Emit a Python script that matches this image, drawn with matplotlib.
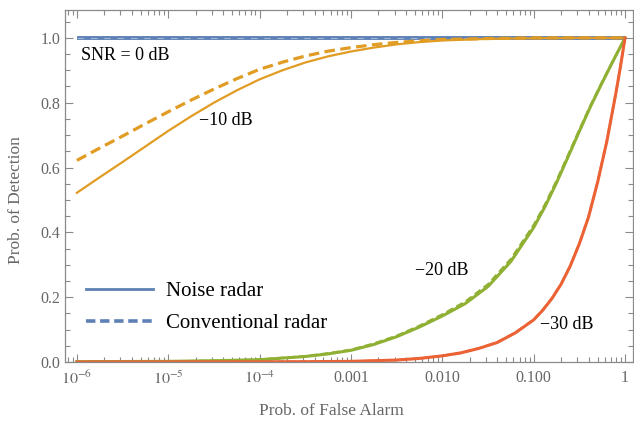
import numpy as np
import matplotlib
matplotlib.use("Agg")
import matplotlib.pyplot as plt
from matplotlib.ticker import FixedLocator, FixedFormatter, MultipleLocator
from matplotlib.lines import Line2D

# ---- data (log10 Pfa, Pd) ----
logP_blue = [-6, 0]
blue_noise = [1.0, 1.0]
blue_conv = [1.0, 1.0]

logP_orange = [-6, -5.75, -5.5, -5.25, -5, -4.75, -4.5, -4.25, -4, -3.75, -3.5, -3.25,
               -3, -2.75, -2.5, -2.25, -2, -1.5, -1, -0.5, 0]
orange_noise = [0.522, 0.570, 0.617, 0.665, 0.713, 0.758, 0.800, 0.838, 0.872, 0.900,
                0.924, 0.943, 0.958, 0.970, 0.980, 0.987, 0.992, 0.997, 0.999, 1.0, 1.0]
orange_conv = [0.622, 0.660, 0.697, 0.735, 0.772, 0.808, 0.842, 0.874, 0.903, 0.925,
               0.944, 0.959, 0.970, 0.979, 0.986, 0.991, 0.995, 0.998, 1.0, 1.0, 1.0]

logP_green = [-6, -5, -4.5, -4, -3.5, -3.25, -3, -2.75, -2.5, -2.25, -2, -1.75, -1.5,
              -1.25, -1, -0.875, -0.75, -0.625, -0.5, -0.375, -0.25, -0.125, 0]
green_noise = [0.001, 0.002, 0.004, 0.007, 0.017, 0.025, 0.036, 0.054, 0.078, 0.108,
               0.142, 0.180, 0.233, 0.310, 0.415, 0.480, 0.553, 0.632, 0.712, 0.790,
               0.862, 0.932, 1.0]
green_conv = [0.001, 0.002, 0.004, 0.008, 0.018, 0.027, 0.038, 0.057, 0.081, 0.112,
              0.147, 0.186, 0.240, 0.318, 0.423, 0.487, 0.560, 0.638, 0.717, 0.794,
              0.865, 0.934, 1.0]

logP_red = [-6, -5, -4, -3.5, -3, -2.5, -2.25, -2, -1.8, -1.6, -1.4, -1.2, -1, -0.9,
            -0.8, -0.7, -0.6, -0.5, -0.4, -0.3, -0.2, -0.1, -0.05, 0]
red_noise = [0.0, 0.0002, 0.0006, 0.001, 0.002, 0.006, 0.011, 0.019, 0.028, 0.042,
             0.060, 0.090, 0.130, 0.160, 0.196, 0.240, 0.296, 0.365, 0.447, 0.555,
             0.680, 0.830, 0.912, 1.0]
red_conv = [0.0, 0.0002, 0.0006, 0.001, 0.002, 0.006, 0.011, 0.019, 0.028, 0.042,
            0.061, 0.091, 0.131, 0.161, 0.197, 0.241, 0.297, 0.366, 0.448, 0.556,
            0.681, 0.830, 0.912, 1.0]

x_tick_vals = [1e-6, 1e-5, 1e-4, 1e-3, 1e-2, 1e-1, 1]
x_tick_labels = [r"$10^{-6}$", r"$10^{-5}$", r"$10^{-4}$", "0.001", "0.010", "0.100", "1"]
y_tick_vals = [0.0, 0.2, 0.4, 0.6, 0.8, 1.0]

snr_labels = ["SNR = 0 dB", "\u221210 dB", "\u221220 dB", "\u221230 dB"]
snr_label_pos = [(10**-5.96, 0.945), (10**-4.66, 0.744), (10**-2.30, 0.281), (10**-0.93, 0.117)]

legend_labels = ["Noise radar", "Conventional radar"]

BLUE = "#5E81B5"
ORANGE = "#E19C24"
GREEN = "#8FB032"
RED = "#EB6235"
GRAY = "#8a8a8a"
TGRAY = "#666666"

plt.rcParams["font.family"] = ["Liberation Serif", "DejaVu Serif"]
plt.rcParams["mathtext.fontset"] = "stix"

fig = plt.figure(figsize=(6.34, 4.23), dpi=100)
ax = fig.add_axes([65/634, 1-362/423, 568/634, 352/423])

def px(lp):
    return 10.0 ** np.asarray(lp, dtype=float)

dash = (3.3, 1.7)
lw_s = 1.6
lw_d = 2.3

# blue
ax.plot(px(logP_blue), blue_noise, color=BLUE, lw=2.8, solid_capstyle="butt")
ax.plot(px(logP_blue), blue_conv, color="#9db4d6", lw=0.8, dashes=(6, 6))
# orange
ax.plot(px(logP_orange), orange_conv, color=ORANGE, lw=lw_d, dashes=dash)
ax.plot(px(logP_orange), orange_noise, color=ORANGE, lw=lw_s)
# green
ax.plot(px(logP_green), green_noise, color=GREEN, lw=2.2)
ax.plot(px(logP_green), green_conv, color=GREEN, lw=lw_s, dashes=dash)
# red
ax.plot(px(logP_red), red_conv, color=RED, lw=lw_s, dashes=dash)
ax.plot(px(logP_red), red_noise, color=RED, lw=2.2)

ax.set_xscale("log")
ax.set_xlim(10**-6.13, 10**0.087)
ax.set_ylim(0, 1.086)

ax.xaxis.set_major_locator(FixedLocator(x_tick_vals))
ax.xaxis.set_major_formatter(FixedFormatter(x_tick_labels))
minor = [m * 10.0**e for e in range(-7, 1) for m in range(2, 10)]
ax.xaxis.set_minor_locator(FixedLocator(minor))
ax.xaxis.set_minor_formatter(FixedFormatter([""] * len(minor)))
ax.yaxis.set_major_locator(FixedLocator(y_tick_vals))
ax.yaxis.set_major_formatter(FixedFormatter([f"{v:.1f}" for v in y_tick_vals]))
ax.yaxis.set_minor_locator(MultipleLocator(0.05))

ax.tick_params(which="both", direction="in", top=True, right=True, color=GRAY,
               labelcolor=TGRAY, labelsize=11.5, width=0.8)
ax.tick_params(which="major", length=6)
ax.tick_params(which="minor", length=3.5)
ax.tick_params(axis="x", pad=6)
for s in ax.spines.values():
    s.set_color(GRAY)
    s.set_linewidth(0.9)

ax.set_xlabel("Prob. of False Alarm", fontsize=12.5, color=TGRAY)
ax.set_ylabel("Prob. of Detection", fontsize=12.5, color=TGRAY)
ax.xaxis.set_label_coords((331-65)/568, (362-403)/352)
ax.yaxis.set_label_coords((24-65)/568, (362-200)/352)

for t, (xx, yy) in zip(snr_labels, snr_label_pos):
    ax.text(xx, yy, t, fontsize=13, color="black", ha="left", va="center")

handles = [Line2D([0], [0], color=BLUE, lw=2.0),
           Line2D([0], [0], color=BLUE, lw=2.6, dashes=(2.6, 1.3))]
leg = ax.legend(handles, legend_labels, loc="center left",
                bbox_to_anchor=((86-65)/568, (362-307.5)/352), frameon=False,
                fontsize=15, handlelength=3.2, handletextpad=0.65,
                labelspacing=0.6, borderpad=0, borderaxespad=0)

fig.savefig("out.png", dpi=100)
